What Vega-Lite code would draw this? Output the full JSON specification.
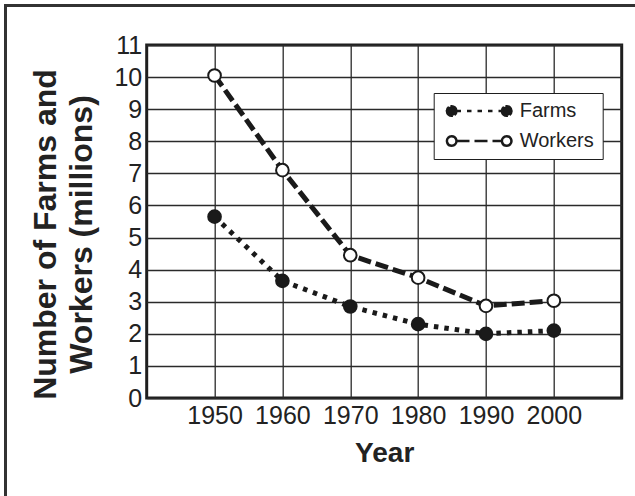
{
  "$schema": "https://vega.github.io/schema/vega-lite/v6.json",
  "autosize": "none",
  "padding": {"left": 146.7, "top": 45, "right": 13.3, "bottom": 98},
  "width": 475,
  "height": 353,
  "background": "white",
  "config": {
    "font": "Liberation Sans",
    "view": {"stroke": "#1e1e1e", "strokeWidth": 3},
    "axis": {
      "labelFont": "Liberation Sans",
      "titleFont": "Liberation Sans",
      "labelColor": "#222",
      "titleColor": "#222",
      "gridColor": "#2a2a2a",
      "gridWidth": 1.3,
      "gridOpacity": 1,
      "domain": false,
      "ticks": false,
      "tickSize": 0
    },
    "legend": {
      "labelFont": "Liberation Sans",
      "labelColor": "#222",
      "title": null,
      "orient": "none",
      "legendX": 287,
      "legendY": 48,
      "padding": 8,
      "strokeColor": "#1e1e1e",
      "fillColor": "#ffffff",
      "symbolSize": 144,
      "symbolStrokeWidth": 2.5,
      "symbolStrokeColor": "#1a1a1a",
      "labelFontSize": 20,
      "labelOffset": 58,
      "rowPadding": 10
    }
  },
  "data": {
    "values": [
      {"year": 1950, "series": "Farms", "value": 5.65},
      {"year": 1960, "series": "Farms", "value": 3.65},
      {"year": 1970, "series": "Farms", "value": 2.85},
      {"year": 1980, "series": "Farms", "value": 2.3},
      {"year": 1990, "series": "Farms", "value": 2.0},
      {"year": 2000, "series": "Farms", "value": 2.1},
      {"year": 1950, "series": "Workers", "value": 10.05},
      {"year": 1960, "series": "Workers", "value": 7.1},
      {"year": 1970, "series": "Workers", "value": 4.45},
      {"year": 1980, "series": "Workers", "value": 3.75},
      {"year": 1990, "series": "Workers", "value": 2.87},
      {"year": 2000, "series": "Workers", "value": 3.03}
    ]
  },
  "encoding": {
    "x": {
      "field": "year",
      "type": "quantitative",
      "scale": {"domain": [1940, 2010], "nice": false, "zero": false},
      "axis": {
        "values": [1950, 1960, 1970, 1980, 1990, 2000],
        "format": "d",
        "title": "Year",
        "labelFontSize": 25,
        "labelBaseline": "alphabetic",
        "labelPadding": 25,
        "labelFlush": false,
        "titleFontSize": 28,
        "titleFontWeight": "bold",
        "titleBaseline": "alphabetic",
        "titleY": 63
      }
    },
    "y": {
      "field": "value",
      "type": "quantitative",
      "scale": {"domain": [0, 11], "nice": false},
      "axis": {
        "values": [0, 1, 2, 3, 4, 5, 6, 7, 8, 9, 10, 11],
        "title": ["Number of Farms and", "Workers (millions)"],
        "labelFontSize": 25,
        "labelPadding": 5,
        "labelFlush": false,
        "titleFontSize": 32,
        "titleFontWeight": "bold",
        "titleLineHeight": 36.7,
        "titleBaseline": "alphabetic",
        "titleX": -91.7,
        "titleY": 189,
        "titleAngle": -90
      }
    }
  },
  "layer": [
    {
      "mark": {"type": "rect", "fillOpacity": 0, "stroke": "#333", "strokeWidth": 2, "clip": false},
      "encoding": {
        "x": {"datum": 1919.2, "type": "quantitative"},
        "x2": {"datum": 2040},
        "y": {"datum": 12.23, "type": "quantitative"},
        "y2": {"datum": -8}
      }
    },
    {
      "mark": {"type": "line", "stroke": "#1a1a1a", "strokeWidth": 5, "strokeCap": "butt"},
      "encoding": {
        "strokeDash": {
          "field": "series",
          "type": "nominal",
          "scale": {"domain": ["Farms", "Workers"], "range": [[4.5, 6], [13, 5]]},
          "legend": {
            "symbolType": "M-0.8,0C-0.8,-0.442 -0.442,-0.8 0,-0.8C0.442,-0.8 0.8,-0.442 0.8,0C0.8,0.442 0.442,0.8 0,0.8C-0.442,0.8 -0.8,0.442 -0.8,0Z M0.8,0C0.8,0.442 0.442,0.8 0,0.8C-0.442,0.8 -0.8,0.442 -0.8,0C-0.8,-0.442 -0.442,-0.8 0,-0.8C0.442,-0.8 0.8,-0.442 0.8,0Z M0.8,0L8.367,0 M8.367,0C8.367,-0.442 8.725,-0.8 9.167,-0.8C9.609,-0.8 9.967,-0.442 9.967,0C9.967,0.442 9.609,0.8 9.167,0.8C8.725,0.8 8.367,0.442 8.367,0Z M9.967,0C9.967,0.442 9.609,0.8 9.167,0.8C8.725,0.8 8.367,0.442 8.367,0C8.367,-0.442 8.725,-0.8 9.167,-0.8C9.609,-0.8 9.967,-0.442 9.967,0Z",
            "symbolStrokeWidth": 2.5
          }
        }
      }
    },
    {
      "mark": {"type": "point", "filled": true, "shape": "circle", "size": 160, "stroke": "#1a1a1a", "strokeWidth": 2, "opacity": 1},
      "encoding": {
        "fill": {
          "field": "series",
          "type": "nominal",
          "scale": {"domain": ["Farms", "Workers"], "range": ["#1a1a1a", "#ffffff"]},
          "legend": {
            "symbolType": "M-0.8,0C-0.8,-0.442 -0.442,-0.8 0,-0.8C0.442,-0.8 0.8,-0.442 0.8,0C0.8,0.442 0.442,0.8 0,0.8C-0.442,0.8 -0.8,0.442 -0.8,0Z M0.8,0C0.8,0.442 0.442,0.8 0,0.8C-0.442,0.8 -0.8,0.442 -0.8,0C-0.8,-0.442 -0.442,-0.8 0,-0.8C0.442,-0.8 0.8,-0.442 0.8,0Z M0.8,0L8.367,0 M8.367,0C8.367,-0.442 8.725,-0.8 9.167,-0.8C9.609,-0.8 9.967,-0.442 9.967,0C9.967,0.442 9.609,0.8 9.167,0.8C8.725,0.8 8.367,0.442 8.367,0Z M9.967,0C9.967,0.442 9.609,0.8 9.167,0.8C8.725,0.8 8.367,0.442 8.367,0C8.367,-0.442 8.725,-0.8 9.167,-0.8C9.609,-0.8 9.967,-0.442 9.967,0Z",
            "symbolStrokeWidth": 2.5
          }
        }
      }
    }
  ]
}
